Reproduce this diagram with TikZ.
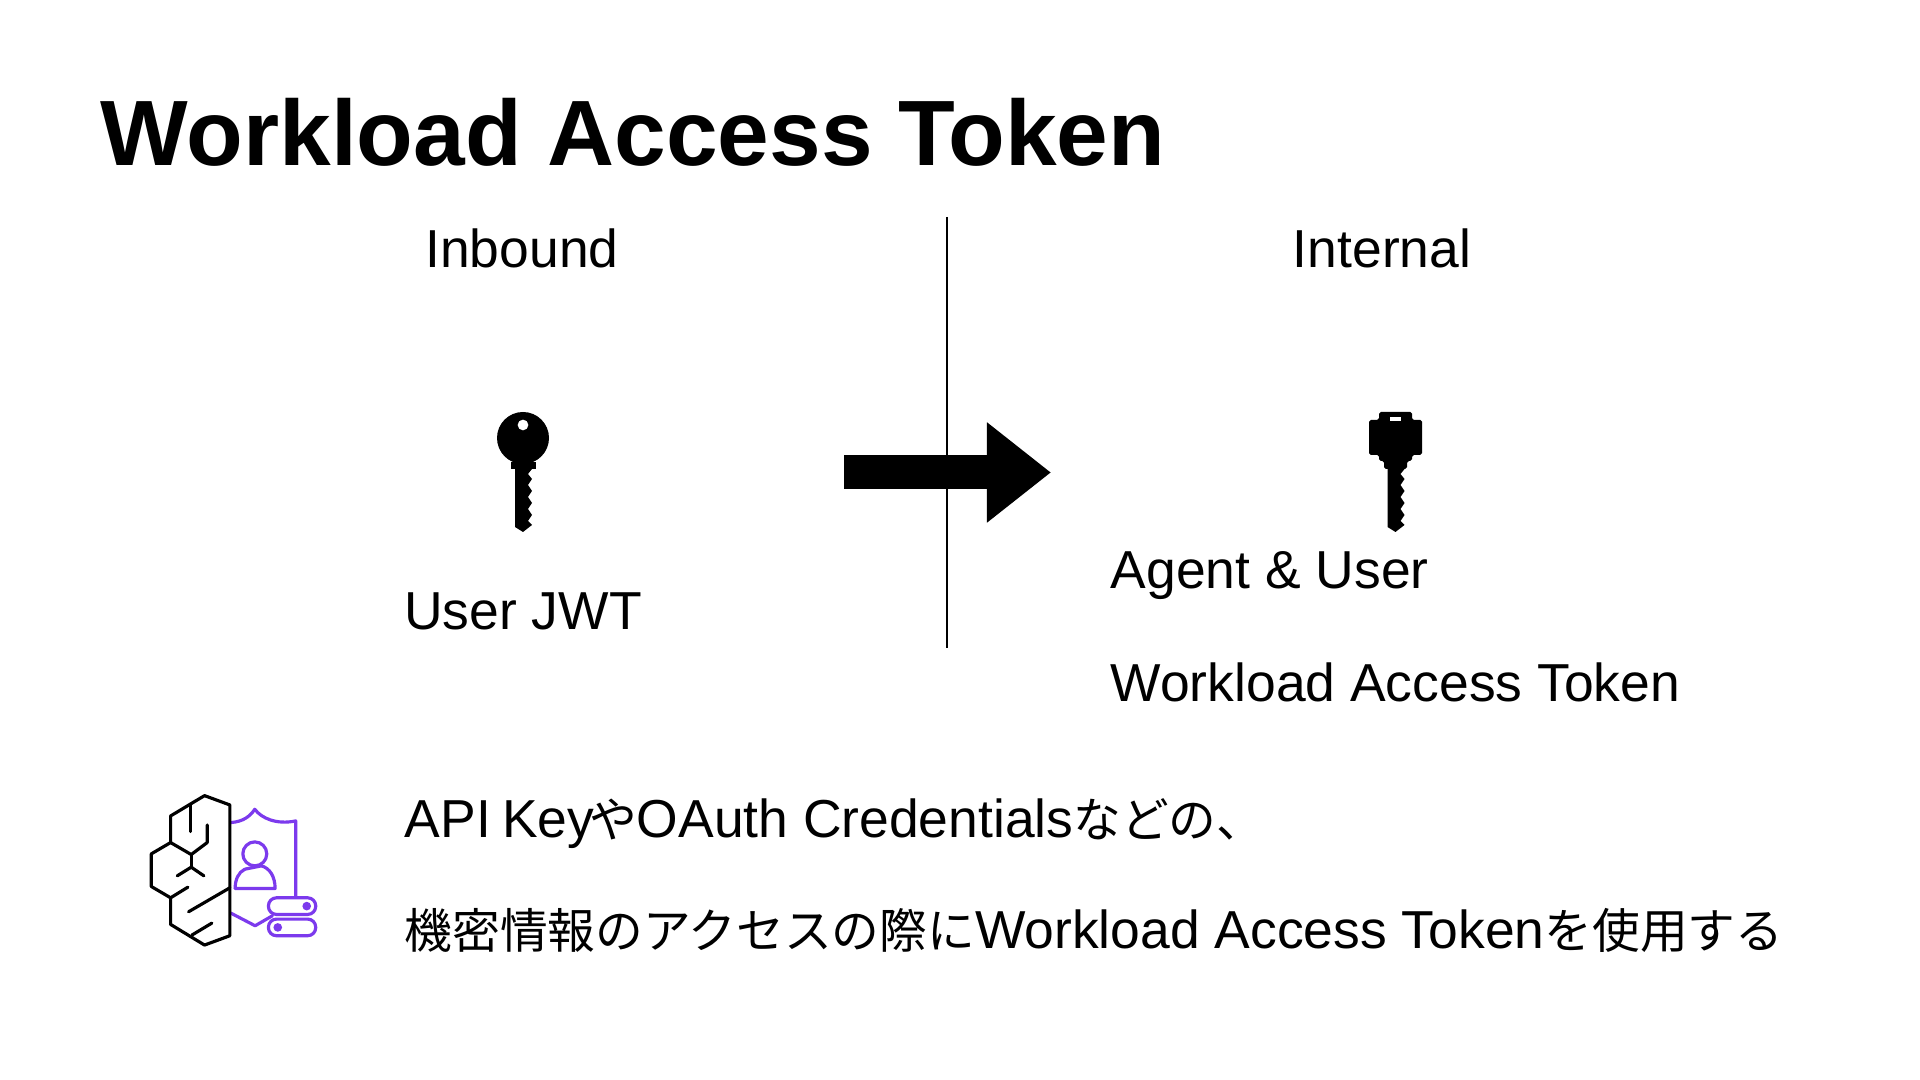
\documentclass[tikz,border=0pt]{standalone}
\usepackage{fontspec}
\setmainfont{Liberation Sans}
\newfontfamily\jp[Scale=0.893]{Noto Sans CJK JP}
\usepackage{xcolor}
\usetikzlibrary{arrows.meta,positioning}
\definecolor{purple}{RGB}{124,58,237}
\tikzset{
  title/.style={anchor=west,inner sep=0pt,font=\fontsize{26.4}{30}\bfseries\selectfont},
  label/.style={inner sep=0pt,text height=.385cm,text depth=0pt,font=\fontsize{15.2}{18}\selectfont},
  brainline/.style={draw=black,line width=.9pt,line cap=round,line join=round},
  shieldline/.style={draw=purple,line width=.9pt,line cap=round,line join=round},
  keybit/.pic={
    % notched blade, origin at the top of the blade
    \fill (-8,0) -- (-8,58) -- (0,63) -- (9,56) -- (5,52) -- (9,46) -- (5,40) -- (9,34) -- (5,28)
      -- (9,22) -- (5,16) -- (9,10) -- (5,5) -- (9,0) -- cycle;
  }
}
\begin{document}
\begin{tikzpicture}[x=.01cm,y=-.01cm,>=Stealth]
\useasboundingbox (0,0) rectangle (1920,1080);
\fill[white] (0,0) rectangle (1920,1080);
\node[title] (heading) at (100,132) {Workload Access Token};
\node[label] (inbound) at (522,248) {Inbound};
\node[label] (internal) at (1382,248) {Internal};
\coordinate (divtop) at (947,217);
\coordinate (divbot) at (947,648);
\draw[line width=.4pt] (divtop) -- (divbot);
\coordinate (flowa) at (844,472.5);
\coordinate (flowb) at (1051,472.5);
\draw[-{Triangle[length=.64cm,width=.96cm]},line width=.34cm] (flowa) -- (flowb);
% user key
\fill[even odd rule] (523,438) circle (26) (523,425) circle (5.5);
\fill (511,462) rectangle (536,469);
\pic at (523,469) {keybit};
% workload key
\fill[rounded corners=.5pt] (1379,412) -- (1412,412) -- (1412,420) -- (1422,420) -- (1422,455)
  -- (1412,455) -- (1412,461) -- (1407,461) -- (1407,469) -- (1384,469) -- (1384,461) -- (1379,461)
  -- (1379,455) -- (1369,455) -- (1369,420) -- (1379,420) -- cycle;
\fill[white] (1390,417) rectangle (1401,421);
\pic at (1395.5,469) {keybit};
\node[label] (userjwt) at (523,610) {User JWT};
\node[label,anchor=west] (agentuser) at (1110,569) {Agent \& User};
\node[label,anchor=west] (wat) at (1110,682) {Workload Access Token};
\node[label,anchor=west] (noteone) at (404,818) {API\kern-1pt{} Key\kern-1.5pt{\jp や}OAuth Credentials{\jp などの、}};
\node[label,anchor=west] (notetwo) at (404,929) {{\jp 機密情報のアクセスの際に}Workload Access Token{\jp を使用する}};
% brain and shield icon
\begin{scope}[shift={(130,780)},x=.00333cm,y=-.00333cm]
\draw[shieldline] (303,128) .. controls (340,125) and (360,110) .. (375,88) .. controls (395,115) and (440,135) .. (498,123) -- (498,352);
\draw[shieldline] (303,400) -- (376,438) -- (428,408);
\draw[shieldline] (375,222) circle (36);
\draw[shieldline,dash pattern=on 9pt off 2pt] (316,326) .. controls (316,300) and (325,278) .. (345,268);
\draw[shieldline] (316,326) -- (436,326) .. controls (436,290) and (420,265) .. (395,258) -- (345,268);
\draw[shieldline,rounded corners=.08cm] (416,354) rectangle (558,404);
\draw[shieldline,rounded corners=.08cm] (416,418) rectangle (558,468);
\fill[purple] (531,379) circle (13) (444,443) circle (13);
\draw[brainline] (300,75) -- (224,47) -- (122,108) -- (122,188) -- (64,222) -- (64,320) -- (122,354) -- (122,434) -- (224,496) -- (300,468) -- cycle;
\draw[brainline] (182,75) -- (182,155);
\draw[brainline] (122,188) -- (184,224) -- (232,188) -- (232,135);
\draw[brainline] (184,224) -- (184,262);
\draw[brainline] (142,288) -- (184,262) -- (222,288);
\draw[brainline] (122,354) -- (174,322);
\draw[brainline] (176,396) -- (300,324);
\draw[brainline] (186,466) -- (246,430);
\end{scope}
\end{tikzpicture}
\end{document}
